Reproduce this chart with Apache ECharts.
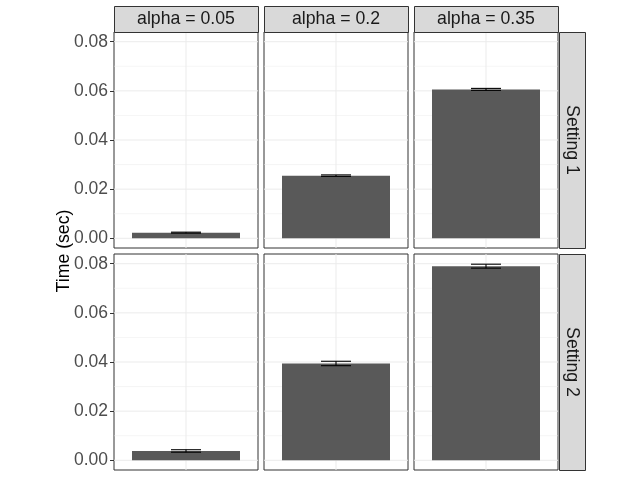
<!DOCTYPE html>
<html>
<head>
<meta charset="utf-8">
<script src="https://cdn.jsdelivr.net/npm/echarts@6/dist/echarts.min.js"></script>
<style>
html,body{margin:0;padding:0;background:#fff;}
#chart{width:640px;height:480px;}
</style>
</head>
<body>
<div id="chart"></div>
<script>
// ---- data ----
const alphaLabels = ['alpha = 0.05', 'alpha = 0.2', 'alpha = 0.35'];
const settingLabels = ['Setting 1', 'Setting 2'];
const setting1Mean = [0.0023, 0.0255, 0.0606];
const setting1Err  = [0.0002, 0.0003, 0.0004];
const setting2Mean = [0.0038, 0.0394, 0.0790];
const setting2Err  = [0.0005, 0.0009, 0.0008];
const yTicks = [0, 0.02, 0.04, 0.06, 0.08];
const yMinorTicks = [0.01, 0.03, 0.05, 0.07];
const yTitle = 'Time (sec)';

const means = [setting1Mean, setting2Mean];
const errs = [setting1Err, setting2Err];

// ---- layout ----
const FONT = '"Liberation Sans", Arial, sans-serif';
const colLeft = [114, 264, 414];
const panelW = 144;
const rowTop = [32, 254];
const panelH = 216;
const stripH = 26;
const stripW = 26;
const yMin = -0.00395, yMax = 0.08395;

const grids = [], xAxes = [], yAxes = [], series = [], graphics = [];

for (let r = 0; r < 2; r++) {
  for (let c = 0; c < 3; c++) {
    const idx = r * 3 + c;
    grids.push({
      left: colLeft[c], top: rowTop[r], width: panelW, height: panelH,
      show: true, borderColor: '#333333', borderWidth: 1, backgroundColor: '#ffffff',
      containLabel: false
    });
    xAxes.push({
      gridIndex: idx, type: 'value', min: 0.4, max: 1.6,
      axisLine: {show: false}, axisTick: {show: false}, axisLabel: {show: false},
      splitLine: {show: false}
    });
    yAxes.push({
      gridIndex: idx, type: 'value', min: yMin, max: yMax,
      axisLine: {show: false},
      axisTick: {show: c === 0, length: 4, customValues: yTicks, lineStyle: {color: '#333333', width: 1}},
      axisLabel: {show: c === 0, customValues: yTicks, margin: 6, color: '#4D4D4D',
        fontSize: 17.5, fontFamily: FONT, formatter: v => v.toFixed(2)},
      splitLine: {show: false}
    });
    // grid lines
    const gl = [];
    yMinorTicks.forEach(v => gl.push([0, v, 0.5]));
    yTicks.forEach(v => gl.push([0, v, 1]));
    gl.push([1, 1, 1]);
    series.push({
      type: 'custom', xAxisIndex: idx, yAxisIndex: idx, z: 1, silent: true, animation: false,
      data: gl,
      renderItem: function (params, api) {
        const vertical = api.value(0) === 1;
        let p0, p1;
        if (vertical) {
          p0 = api.coord([api.value(1), yMin]);
          p1 = api.coord([api.value(1), yMax]);
        } else {
          p0 = api.coord([0.4, api.value(1)]);
          p1 = api.coord([1.6, api.value(1)]);
        }
        return {type: 'line', shape: {x1: p0[0], y1: p0[1], x2: p1[0], y2: p1[1]},
          style: {stroke: '#EBEBEB', lineWidth: api.value(2)}};
      }
    });
    // bar + errorbar
    const m = means[r][c], e = errs[r][c];
    series.push({
      type: 'custom', xAxisIndex: idx, yAxisIndex: idx, z: 3, silent: true, animation: false,
      data: [[1, m, m - e, m + e]],
      renderItem: function (params, api) {
        const x = api.value(0), v = api.value(1), lo = api.value(2), hi = api.value(3);
        const b0 = api.coord([x - 0.45, 0]);
        const b1 = api.coord([x + 0.45, v]);
        const eL = api.coord([x - 0.125, lo]);
        const eR = api.coord([x + 0.125, hi]);
        const eC = api.coord([x, lo]);
        return {type: 'group', children: [
          {type: 'rect', shape: {x: b0[0], y: b1[1], width: b1[0] - b0[0], height: b0[1] - b1[1]},
            style: {fill: '#595959'}},
          {type: 'line', shape: {x1: eL[0], y1: eR[1], x2: eR[0], y2: eR[1]}, style: {stroke: '#000', lineWidth: 1.1}},
          {type: 'line', shape: {x1: eL[0], y1: eL[1], x2: eR[0], y2: eL[1]}, style: {stroke: '#000', lineWidth: 1.1}},
          {type: 'line', shape: {x1: eC[0], y1: eL[1], x2: eC[0], y2: eR[1]}, style: {stroke: '#000', lineWidth: 1.1}}
        ]};
      }
    });
  }
}

// column strips
for (let c = 0; c < 3; c++) {
  graphics.push({type: 'rect', shape: {x: colLeft[c] + 0.5, y: rowTop[0] - stripH + 0.5, width: panelW, height: stripH},
    style: {fill: '#D9D9D9', stroke: '#333333', lineWidth: 1}, z: 10});
  graphics.push({type: 'text', x: colLeft[c] + panelW / 2, y: rowTop[0] - stripH / 2,
    style: {text: alphaLabels[c], font: '17.7px ' + FONT, fill: '#1A1A1A', align: 'center', verticalAlign: 'middle'}, z: 11});
}
// row strips
for (let r = 0; r < 2; r++) {
  const sx = colLeft[2] + panelW + 1;
  graphics.push({type: 'rect', shape: {x: sx + 0.5, y: rowTop[r] + 0.5, width: stripW, height: panelH},
    style: {fill: '#D9D9D9', stroke: '#333333', lineWidth: 1}, z: 10});
  graphics.push({type: 'text', x: sx + stripW / 2, y: rowTop[r] + panelH / 2, rotation: -Math.PI / 2,
    style: {text: settingLabels[r], font: '17.7px ' + FONT, fill: '#1A1A1A', align: 'center', verticalAlign: 'middle'}, z: 11});
}
// y title
graphics.push({type: 'text', x: 64, y: (rowTop[0] + rowTop[1] + panelH) / 2, rotation: Math.PI / 2,
  style: {text: yTitle, font: '17.7px ' + FONT, fill: '#000000', align: 'center', verticalAlign: 'middle'}, z: 11});

const chart = echarts.init(document.getElementById('chart'), null, {renderer: 'canvas'});
chart.setOption({
  backgroundColor: '#ffffff',
  animation: false,
  grid: grids, xAxis: xAxes, yAxis: yAxes, series: series,
  graphic: {elements: graphics}
});
</script>
</body>
</html>
